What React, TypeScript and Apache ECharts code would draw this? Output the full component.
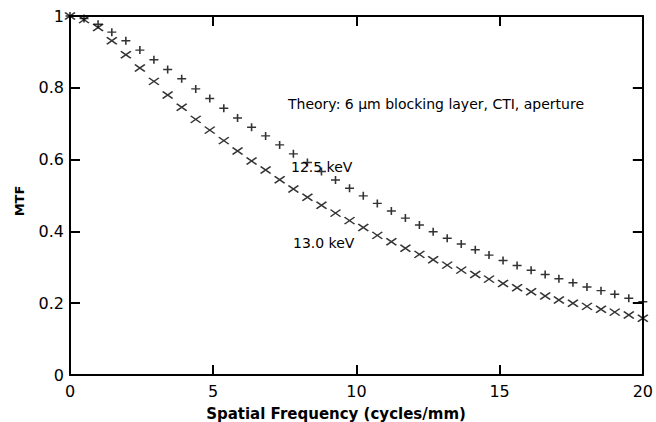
import React, { useEffect, useRef } from "react";
import * as echarts from "echarts";

// Spatial frequency samples (cycles/mm)
const freq = [
  0, 0.49, 0.98, 1.46, 1.95, 2.44, 2.93, 3.41, 3.9, 4.39, 4.88, 5.37, 5.85, 6.34,
  6.83, 7.32, 7.8, 8.29, 8.78, 9.27, 9.76, 10.24, 10.73, 11.22, 11.71, 12.2, 12.68,
  13.17, 13.66, 14.15, 14.63, 15.12, 15.61, 16.1, 16.59, 17.07, 17.56, 18.05, 18.54,
  19.02, 19.51, 20,
];

// MTF at 12.5 keV (plus markers)
const mtf125 = [
  1.0, 0.993, 0.977, 0.955, 0.931, 0.905, 0.878, 0.851, 0.825, 0.797, 0.77, 0.743,
  0.716, 0.69, 0.666, 0.641, 0.616, 0.592, 0.567, 0.543, 0.52, 0.499, 0.478, 0.457,
  0.437, 0.418, 0.399, 0.381, 0.365, 0.349, 0.334, 0.319, 0.305, 0.292, 0.28, 0.268,
  0.257, 0.245, 0.235, 0.225, 0.214, 0.204,
];

// MTF at 13.0 keV (cross markers)
const mtf130 = [
  1.0, 0.99, 0.968, 0.931, 0.892, 0.855, 0.818, 0.78, 0.746, 0.712, 0.682, 0.653,
  0.624, 0.596, 0.571, 0.544, 0.518, 0.495, 0.473, 0.451, 0.43, 0.411, 0.389, 0.371,
  0.353, 0.336, 0.321, 0.306, 0.292, 0.28, 0.267, 0.255, 0.243, 0.232, 0.22, 0.209,
  0.2, 0.191, 0.183, 0.175, 0.167, 0.158,
];

const xTicks = { min: 0, max: 20, interval: 5 };
const yTicks = { min: 0, max: 1, interval: 0.2 };

const FONT = '"DejaVu Sans", Verdana, sans-serif';

const PLUS = "path://M0,5L10,5M5,0L5,10";
const CROSS = "path://M0,0L10,10M0,10L10,0";

export default function App() {
  const ref = useRef<HTMLDivElement>(null);

  useEffect(() => {
    if (!ref.current) return;
    const chart = echarts.init(ref.current, null, { renderer: "svg" });

    const axisLine = { show: true, onZero: false, lineStyle: { color: "#000", width: 2 } };
    const axisTick = { show: true, inside: true, length: 10, lineStyle: { color: "#000", width: 2 } };

    chart.setOption({
      animation: false,
      backgroundColor: "#fff",
      grid: { left: 70, right: 13, top: 16, bottom: 47 },
      xAxis: [
        {
          type: "value",
          position: "bottom",
          ...xTicks,
          axisLine,
          axisTick,
          splitLine: { show: false },
          axisLabel: { color: "#000", fontSize: 16, fontFamily: FONT, margin: 8 },
        },
        {
          type: "value",
          position: "top",
          ...xTicks,
          axisLine,
          axisTick,
          splitLine: { show: false },
          axisLabel: { show: false },
        },
      ],
      yAxis: [
        {
          type: "value",
          position: "left",
          ...yTicks,
          axisLine,
          axisTick,
          splitLine: { show: false },
          axisLabel: { color: "#000", fontSize: 16, fontFamily: FONT, margin: 6 },
        },
        {
          type: "value",
          position: "right",
          ...yTicks,
          axisLine,
          axisTick,
          splitLine: { show: false },
          axisLabel: { show: false },
        },
      ],
      series: [
        {
          name: "12.5 keV",
          type: "scatter",
          clip: false,
          symbol: PLUS,
          symbolSize: [9, 8],
          itemStyle: { color: "#000", borderColor: "#000", borderWidth: 1.5 },
          data: freq.map((f, i) => [f, mtf125[i]]),
        },
        {
          name: "13.0 keV",
          type: "scatter",
          clip: false,
          symbol: CROSS,
          symbolSize: [10, 7],
          itemStyle: { color: "#000", borderColor: "#000", borderWidth: 1.5 },
          data: freq.map((f, i) => [f, mtf130[i]]),
        },
      ],
      graphic: [
        {
          type: "text",
          x: 288,
          y: 104,
          style: {
            text: "Theory: 6 µm blocking layer, CTI, aperture",
            font: `14px ${FONT}`,
            fill: "#000",
            align: "left",
            verticalAlign: "middle",
          },
        },
        {
          type: "text",
          x: 291,
          y: 167,
          style: {
            text: "12.5 keV",
            font: `14px ${FONT}`,
            fill: "#000",
            align: "left",
            verticalAlign: "middle",
          },
        },
        {
          type: "text",
          x: 293,
          y: 243,
          style: {
            text: "13.0 keV",
            font: `14px ${FONT}`,
            fill: "#000",
            align: "left",
            verticalAlign: "middle",
          },
        },
        {
          type: "text",
          x: 336,
          y: 414,
          style: {
            text: "Spatial Frequency (cycles/mm)",
            font: `bold 15px ${FONT}`,
            fill: "#000",
            align: "center",
            verticalAlign: "middle",
          },
        },
        {
          type: "text",
          x: 19,
          y: 201,
          rotation: Math.PI / 2,
          style: {
            text: "MTF",
            font: `bold 13px ${FONT}`,
            fill: "#000",
            align: "center",
            verticalAlign: "middle",
          },
        },
      ],
    });

    return () => chart.dispose();
  }, []);

  return (
    <div
      ref={ref}
      style={{ position: "fixed", left: 0, top: 0, width: 656, height: 422 }}
    />
  );
}
